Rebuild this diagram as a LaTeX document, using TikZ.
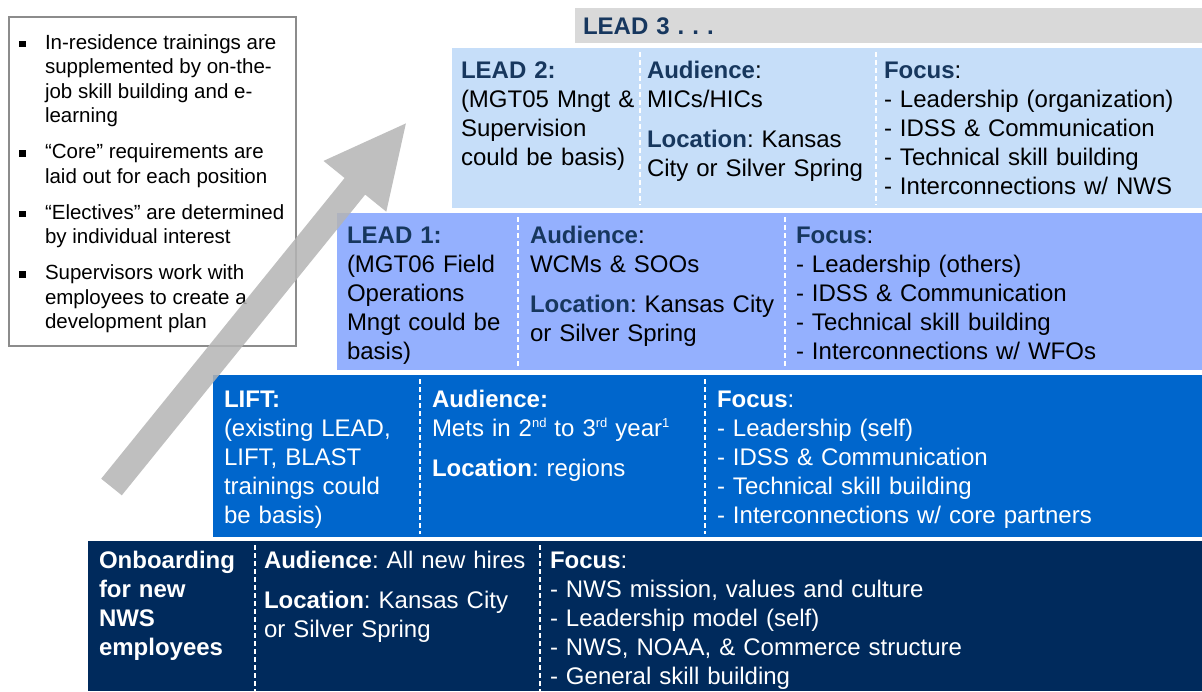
\documentclass[tikz,border=0pt]{standalone}
\usepackage{fontspec}
\setmainfont{Liberation Sans}
\definecolor{navy}{HTML}{17375E}
\definecolor{deep}{HTML}{002A5C}
\definecolor{royal}{HTML}{0066CC}
\definecolor{peri}{HTML}{94B0FE}
\definecolor{sky}{HTML}{C6DEF9}
\definecolor{mist}{HTML}{D9D9D9}
\definecolor{arrowgray}{HTML}{B4B4B4}
\definecolor{rim}{HTML}{8C8C8C}
\colorlet{hdcol}{navy}
\newcommand{\tierfont}{\fontsize{24}{29}\selectfont\frenchspacing}
\newcommand{\notefont}{\fontsize{20.5}{24.5}\selectfont\frenchspacing}
\newcommand{\hd}[1]{\textbf{\textcolor{hdcol}{#1}}}
\newcommand{\sups}[1]{\raisebox{9pt}{\fontsize{13}{13}\selectfont #1}}
\newcommand{\notesq}{\rule[2.2pt]{6.5pt}{6.5pt}}
\tikzset{every node/.style={inner sep=0pt,outer sep=0pt},
band/.style={anchor=north west},
col/.style={anchor=base west,text width=#1,align=left,font=\tierfont},
light/.style={text=black,execute at begin node={\colorlet{hdcol}{navy}}},
dark/.style={text=white,execute at begin node={\colorlet{hdcol}{white}}},
dashsep/.style={draw=white,line width=1.2pt,dash pattern=on 5pt off 3pt},
notebox/.style={anchor=north west,draw=rim,line width=1.2pt,fill=white},
uparrow/.style={fill=arrowgray,fill opacity=.85}}

\begin{document}
\begin{tikzpicture}[x=1pt,y=-1pt]
\useasboundingbox (0,0) rectangle (1202,691);
\node[band,fill=mist,minimum width=627pt,minimum height=35pt] (lead3) at (575,8) {};
\node[col=300pt,light] (lead3a) at (583,34.6) {\hd{LEAD 3 . . .}};
\node[band,fill=sky,minimum width=750pt,minimum height=160pt] (lead2) at (452,48) {};
\node[col=175pt,light] (lead2a) at (461,78.6) {\hd{LEAD 2:}\\(MGT05 Mngt \&\\Supervision\\could be basis)};
\node[col=225pt,light] (lead2b) at (647,78.6) {\hd{Audience}:\\MICs/HICs\\[11pt]\hd{Location}: Kansas\\City or Silver Spring};
\node[col=314pt,light] (lead2c) at (884,78.6) {\hd{Focus}:\\- Leadership (organization)\\- IDSS \& Communication\\- Technical skill building\\- Interconnections w/ NWS};
\draw[dashsep] (640,52)--(640,205);
\draw[dashsep] (876,52)--(876,205);
\node[band,fill=peri,minimum width=865pt,minimum height=157pt] (lead1) at (337,213) {};
\node[col=167pt,light] (lead1a) at (347,243.6) {\hd{LEAD 1:}\\(MGT06 Field\\Operations\\Mngt could be\\basis)};
\node[col=251pt,light] (lead1b) at (530,243.6) {\hd{Audience}:\\WCMs \& SOOs\\[11pt]\hd{Location}: Kansas City\\or Silver Spring};
\node[col=402pt,light] (lead1c) at (796,243.6) {\hd{Focus}:\\- Leadership (others)\\- IDSS \& Communication\\- Technical skill building\\- Interconnections w/ WFOs};
\draw[dashsep] (518,217)--(518,367);
\draw[dashsep] (785,217)--(785,367);
\node[band,fill=royal,minimum width=989pt,minimum height=162pt] (lift) at (213,375) {};
\node[col=192pt,dark] (lifta) at (224,407.6) {\hd{LIFT:}\\(existing LEAD,\\LIFT, BLAST\\trainings could\\be basis)};
\node[col=269pt,dark] (liftb) at (432,407.6) {\hd{Audience:}\\Mets in 2\sups{nd} to 3\sups{rd} year\sups{1}\\[11pt]\hd{Location}: regions};
\node[col=481pt,dark] (liftc) at (717,407.6) {\hd{Focus}:\\- Leadership (self)\\- IDSS \& Communication\\- Technical skill building\\- Interconnections w/ core partners};
\draw[dashsep] (420,379)--(420,534);
\draw[dashsep] (705,379)--(705,534);
\node[band,fill=deep,minimum width=1114pt,minimum height=150pt] (onb) at (88,541) {};
\node[col=152pt,dark] (onba) at (99,568.6) {\hd{Onboarding}\\\hd{for new}\\\hd{NWS}\\\hd{employees}};
\node[col=272pt,dark] (onbb) at (264,568.6) {\hd{Audience}: All new hires\\[11pt]\hd{Location}: Kansas City\\or Silver Spring};
\node[col=648pt,dark] (onbc) at (550,568.6) {\hd{Focus}:\\- NWS mission, values and culture\\- Leadership model (self)\\- NWS, NOAA, \& Commerce structure\\- General skill building};
\draw[dashsep] (255,545)--(255,691);
\draw[dashsep] (540,545)--(540,691);
\node[notebox,minimum width=287pt,minimum height=329pt] (note) at (9,17) {};
\node[anchor=base west,font=\notefont] (notetext) at (19,49.3) {%
\begin{tabular}[t]{@{}p{26pt}@{}l@{}}
\notesq & In-residence trainings are\\
 & supplemented by on-the-\\
 & job skill building and e-\\
 & learning\\[11.5pt]
\notesq & “Core” requirements are\\
 & laid out for each position\\[11.5pt]
\notesq & “Electives” are determined\\
 & by individual interest\\[11.5pt]
\notesq & Supervisors work with\\
 & employees to create a\\
 & development plan
\end{tabular}};
\path[uparrow] (101.2,478.7)--(344.6,178)--(323.5,160.9)--(405.9,123.4)
  --(386.3,211.7)--(365.2,194.6)--(121.8,495.3)--cycle;
\end{tikzpicture}
\end{document}
